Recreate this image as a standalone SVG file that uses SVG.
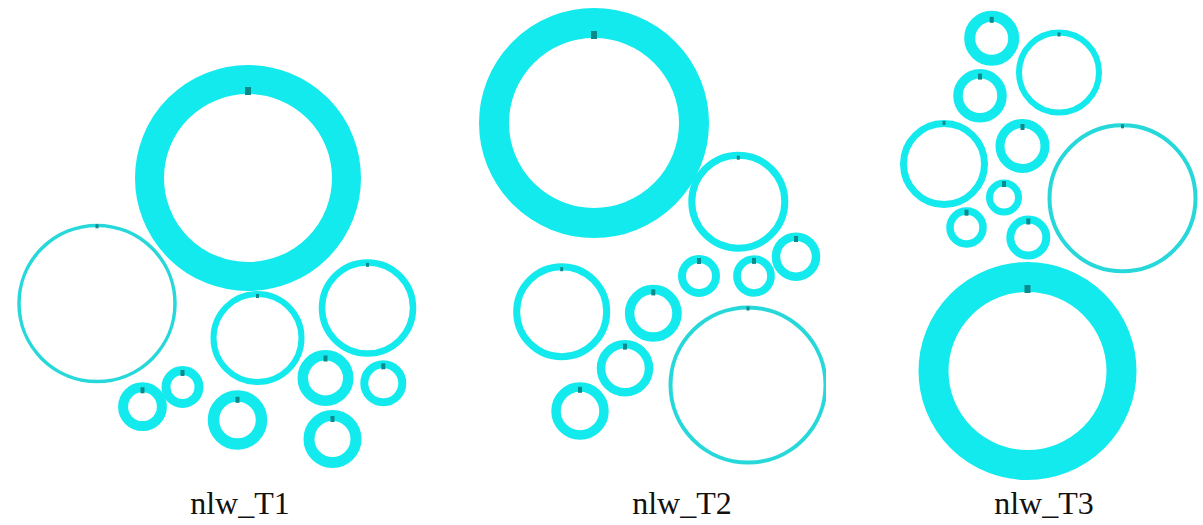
<svg xmlns="http://www.w3.org/2000/svg" width="1203" height="525" viewBox="0 0 1203 525">
<style>
.ring{fill:none;stroke:#12eaee}
.thin{stroke:#26d8da}
.tick{fill:#0b8a8c}
.lbl{font-family:"Liberation Serif","Times New Roman",serif;font-size:32px;fill:#111111;text-anchor:middle}
</style>
<defs>
<clipPath id="clipT2"><rect x="470" y="0" width="356" height="480"/></clipPath>
</defs>
<rect width="1203" height="525" fill="#ffffff"/>
<g id="panel-T1">
<g id="t1-a"><circle class="ring" cx="248" cy="178" r="98.5" stroke-width="29"/><rect class="tick" x="245" y="87" width="6" height="8"/></g>
<g id="t1-b"><circle class="ring thin" cx="97" cy="303.5" r="78" stroke-width="3.5"/><rect class="tick" x="95.5" y="224.3" width="3" height="4"/></g>
<g id="t1-c"><circle class="ring" cx="257.5" cy="338" r="44" stroke-width="6"/><rect class="tick" x="256" y="294" width="3" height="4"/></g>
<g id="t1-d"><circle class="ring" cx="367.5" cy="308" r="45.5" stroke-width="6.5"/><rect class="tick" x="366" y="262.8" width="3" height="4"/></g>
<g id="t1-e"><circle class="ring" cx="325.5" cy="378" r="22.75" stroke-width="10.5"/><rect class="tick" x="323.5" y="355.5" width="4" height="6"/></g>
<g id="t1-f"><circle class="ring" cx="383.3" cy="383.3" r="19" stroke-width="8"/><rect class="tick" x="381.3" y="363.3" width="4" height="6"/></g>
<g id="t1-g"><circle class="ring" cx="332.5" cy="439" r="23.5" stroke-width="11"/><rect class="tick" x="330.5" y="416" width="4" height="6"/></g>
<g id="t1-h"><circle class="ring" cx="237.5" cy="420" r="24" stroke-width="11.5"/><rect class="tick" x="235.5" y="396.8" width="4" height="6"/></g>
<g id="t1-i"><circle class="ring" cx="182.5" cy="387" r="16.5" stroke-width="9"/><rect class="tick" x="180.5" y="370" width="4" height="6"/></g>
<g id="t1-j"><circle class="ring" cx="142.5" cy="406.7" r="19.4" stroke-width="10"/><rect class="tick" x="140.5" y="387.3" width="4" height="6"/></g>
<text class="lbl" x="240" y="514">nlw_T1</text>
</g>
<g id="panel-T2">
<g id="t2-a"><circle class="ring" cx="594" cy="123" r="100" stroke-width="30"/><rect class="tick" x="591" y="31" width="6" height="8"/></g>
<g id="t2-b"><circle class="ring" cx="738.3" cy="201.7" r="46.5" stroke-width="7"/><rect class="tick" x="736.8" y="155.7" width="3" height="4"/></g>
<g id="t2-c"><circle class="ring" cx="796" cy="256.7" r="20" stroke-width="8.5"/><rect class="tick" x="794" y="236" width="4" height="6"/></g>
<g id="t2-d"><circle class="ring" cx="754" cy="276" r="17" stroke-width="7.7"/><rect class="tick" x="752" y="257.9" width="4" height="6"/></g>
<g id="t2-e"><circle class="ring" cx="699" cy="276" r="17" stroke-width="8"/><rect class="tick" x="697" y="258" width="4" height="6"/></g>
<g id="t2-f"><circle class="ring" cx="561.7" cy="311.7" r="45" stroke-width="7"/><rect class="tick" x="560.2" y="267.2" width="3" height="4"/></g>
<g id="t2-g"><circle class="ring" cx="653.3" cy="313.3" r="23.7" stroke-width="9.5"/><rect class="tick" x="651.3" y="289.4" width="4" height="6"/></g>
<g id="t2-h"><circle class="ring" cx="625" cy="368.3" r="24" stroke-width="8.5"/><rect class="tick" x="623" y="343.6" width="4" height="6"/></g>
<g id="t2-i"><circle class="ring" cx="580" cy="411" r="24" stroke-width="9.5"/><rect class="tick" x="578" y="386.8" width="4" height="6"/></g>
<g id="t2-j" clip-path="url(#clipT2)"><circle class="ring thin" cx="748" cy="385" r="77.5" stroke-width="4"/><rect class="tick" x="746.5" y="306.5" width="3" height="4"/></g>
<text class="lbl" x="682" y="514">nlw_T2</text>
</g>
<g id="panel-T3">
<g id="t3-a"><circle class="ring" cx="991.7" cy="38.3" r="22" stroke-width="11"/><rect class="tick" x="989.7" y="16.8" width="4" height="6"/></g>
<g id="t3-b"><circle class="ring" cx="1059" cy="72.5" r="40" stroke-width="6"/><rect class="tick" x="1057.5" y="32.5" width="3" height="4"/></g>
<g id="t3-c"><circle class="ring" cx="980" cy="95.8" r="22" stroke-width="9.5"/><rect class="tick" x="978" y="73.6" width="4" height="6"/></g>
<g id="t3-d"><circle class="ring" cx="944" cy="164" r="40.5" stroke-width="7"/><rect class="tick" x="942.5" y="121" width="3" height="4"/></g>
<g id="t3-e"><circle class="ring" cx="1022.5" cy="146" r="22.5" stroke-width="9"/><rect class="tick" x="1020.5" y="124" width="4" height="6"/></g>
<g id="t3-f"><circle class="ring thin" cx="1122.5" cy="198.3" r="73" stroke-width="4"/><rect class="tick" x="1121" y="124.3" width="3" height="4"/></g>
<g id="t3-g"><circle class="ring" cx="1004" cy="197.5" r="14.5" stroke-width="7"/><rect class="tick" x="1002" y="181" width="4" height="6"/></g>
<g id="t3-h"><circle class="ring" cx="966.5" cy="227.5" r="16.5" stroke-width="7.5"/><rect class="tick" x="964.5" y="209.7" width="4" height="6"/></g>
<g id="t3-i"><circle class="ring" cx="1028.3" cy="237.5" r="18" stroke-width="8"/><rect class="tick" x="1026.3" y="218.5" width="4" height="6"/></g>
<g id="t3-j"><circle class="ring" cx="1027.5" cy="371" r="94" stroke-width="30"/><rect class="tick" x="1024.5" y="285" width="6" height="8"/></g>
<text class="lbl" x="1044" y="514">nlw_T3</text>
</g>
<g id="connectors"></g>
</svg>
